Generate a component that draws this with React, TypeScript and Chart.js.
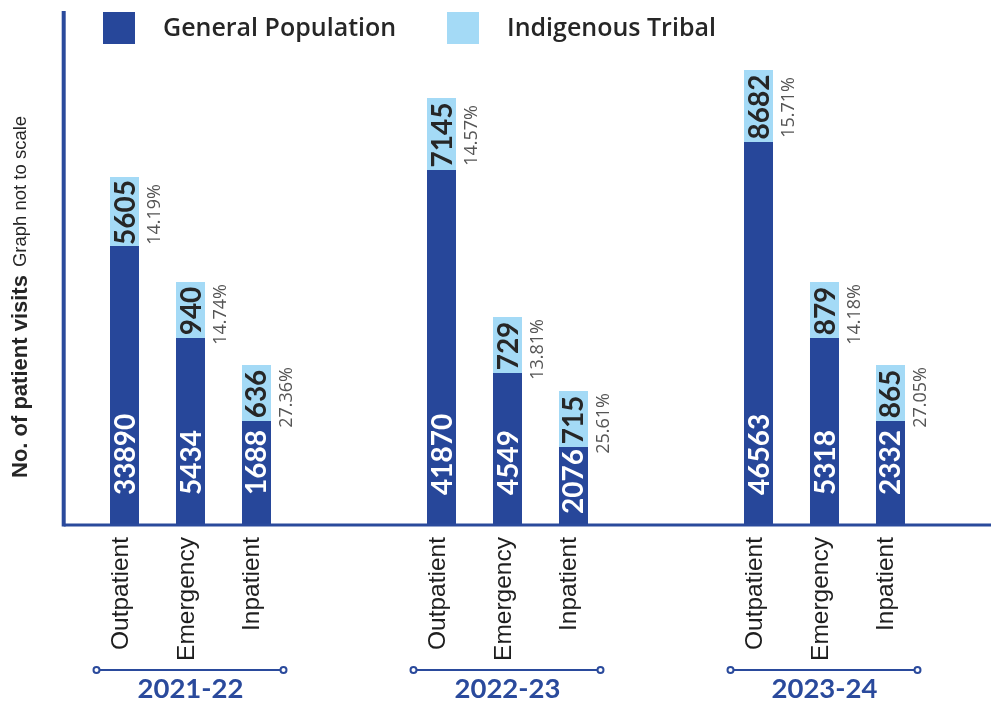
import React, { useEffect, useRef } from 'react';
import { Chart, registerables } from 'chart.js';

Chart.register(...registerables);

// ---------- data ----------
const years = ['2021-22', '2022-23', '2023-24'];
const visitTypes = ['Outpatient', 'Emergency', 'Inpatient'];

const generalOutpatient = [33890, 41870, 46563];
const generalEmergency = [5434, 4549, 5318];
const generalInpatient = [1688, 2076, 2332];

const tribalOutpatient = [5605, 7145, 8682];
const tribalEmergency = [940, 729, 879];
const tribalInpatient = [636, 715, 865];

const tribalShareOutpatient = ['14.19%', '14.57%', '15.71%'];
const tribalShareEmergency = ['14.74%', '13.81%', '14.18%'];
const tribalShareInpatient = ['27.36%', '25.61%', '27.05%'];

// "Graph not to scale": drawn bar lengths (arbitrary units)
const generalOutpatientLength = [280, 356, 384];
const generalEmergencyLength = [188, 153, 188];
const generalInpatientLength = [105, 79, 105];
const tribalOutpatientLength = [69, 72, 72];
const tribalEmergencyLength = [56, 56, 56];
const tribalInpatientLength = [56, 56, 56];

const legendLabels = ['General Population', 'Indigenous Tribal'];
const yTitle = 'No. of patient visits';
const yNote = 'Graph not to scale';

// ---------- styles ----------
const DARK = '#27479a';
const LIGHT = '#a4daf6';
const TEXT = '#262626';
const GREY = '#555555';
const AXIS = '#2a4a9c';

const generalValues = [generalOutpatient, generalEmergency, generalInpatient];
const tribalValues = [tribalOutpatient, tribalEmergency, tribalInpatient];
const tribalShares = [tribalShareOutpatient, tribalShareEmergency, tribalShareInpatient];
const generalLengths = [generalOutpatientLength, generalEmergencyLength, generalInpatientLength];
const tribalLengths = [tribalOutpatientLength, tribalEmergencyLength, tribalInpatientLength];

const overlayPlugin = {
  id: 'overlay',
  afterDatasetsDraw(chart: any) {
    const ctx = chart.ctx as CanvasRenderingContext2D;
    const xs = chart.scales.x;
    const ys = chart.scales.y;
    const base = ys.getPixelForValue(0);
    const axisX = xs.getPixelForValue(-0.4);

    ctx.save();
    // axes lines
    ctx.strokeStyle = AXIS;
    ctx.lineWidth = 3;
    ctx.beginPath();
    ctx.moveTo(axisX, base - 1);
    ctx.lineTo(chart.width, base - 1);
    ctx.stroke();
    ctx.lineWidth = 4;
    ctx.beginPath();
    ctx.moveTo(axisX, chart.chartArea.top);
    ctx.lineTo(axisX, base + 0.5);
    ctx.stroke();

    const rot = (x: number, y: number, text: string, align: CanvasTextAlign) => {
      ctx.save();
      ctx.translate(x, y);
      ctx.rotate(-Math.PI / 2);
      ctx.textAlign = align;
      ctx.textBaseline = 'alphabetic';
      ctx.fillText(text, 0, 0);
      ctx.restore();
    };

    for (let t = 0; t < visitTypes.length; t++) {
      const gpMeta = chart.getDatasetMeta(t * 2);
      const itMeta = chart.getDatasetMeta(t * 2 + 1);
      for (let i = 0; i < years.length; i++) {
        const gp = gpMeta.data[i];
        const it = itMeta.data[i];
        const cx = gp.x;
        const half = gp.width / 2;
        // general population value (white, bottom)
        ctx.fillStyle = '#ffffff';
        ctx.font = 'bold 28px Lato';
        const gText = String(generalValues[t][i]);
        const gw = ctx.measureText(gText).width;
        let start = gp.base - 31;
        if (start - gw < gp.y + 2) start = gp.y + 2 + gw;
        rot(cx + 10, start, gText, 'left');
        // tribal value (dark, centred in light segment)
        ctx.fillStyle = TEXT;
        ctx.font = 'bold 28px Lato';
        rot(cx + 10, (it.y + it.base) / 2 + 1, String(tribalValues[t][i]), 'center');
        // share
        ctx.fillStyle = GREY;
        ctx.font = '18px "Open Sans"';
        const off = t === 0 ? 7 : 2;
        rot(cx + half + 21, it.y + off, tribalShares[t][i], 'right');
        // category label
        ctx.fillStyle = '#1e1e1e';
        ctx.font = '24.5px "Liberation Sans"';
        rot(cx + 3, base + 11, visitTypes[t], 'right');
      }
    }

    // year brackets and labels
    for (let i = 0; i < years.length; i++) {
      const first = chart.getDatasetMeta(0).data[i];
      const last = chart.getDatasetMeta(4).data[i];
      const x1 = first.x - 28;
      const x2 = last.x + 27;
      const y = 670;
      ctx.strokeStyle = AXIS;
      ctx.lineWidth = 2;
      ctx.beginPath();
      ctx.moveTo(x1, y);
      ctx.lineTo(x2, y);
      ctx.stroke();
      [x1, x2].forEach((px) => {
        ctx.beginPath();
        ctx.arc(px, y, 3, 0, Math.PI * 2);
        ctx.fillStyle = '#ffffff';
        ctx.fill();
        ctx.stroke();
      });
      ctx.fillStyle = AXIS;
      ctx.font = 'bold 27.5px Lato';
      ctx.textAlign = 'center';
      ctx.textBaseline = 'alphabetic';
      ctx.fillText(years[i], xs.getPixelForValue(i), 698);
    }

    // y title
    ctx.fillStyle = TEXT;
    ctx.font = 'bold 22px "Liberation Sans"';
    const tw = ctx.measureText(yTitle).width;
    rot(27, 478, yTitle, 'left');
    ctx.font = '18.5px "Liberation Sans"';
    rot(26, 478 - tw - 8, yNote, 'left');

    // legend
    const legendX = [103, 447];
    const colors = [DARK, LIGHT];
    for (let k = 0; k < 2; k++) {
      ctx.fillStyle = colors[k];
      ctx.fillRect(legendX[k], 12, 32, 32);
      ctx.fillStyle = TEXT;
      ctx.font = '600 25px "Open Sans"';
      ctx.textAlign = 'left';
      ctx.textBaseline = 'alphabetic';
      ctx.fillText(legendLabels[k], legendX[k] + 60, 36);
    }
    ctx.restore();
  },
};

export default function App() {
  const ref = useRef<HTMLCanvasElement | null>(null);
  useEffect(() => {
    if (!ref.current) return;
    const datasets: any[] = [];
    for (let t = 0; t < visitTypes.length; t++) {
      datasets.push({
        label: legendLabels[0],
        data: generalLengths[t],
        backgroundColor: DARK,
        stack: visitTypes[t],
      });
      datasets.push({
        label: legendLabels[1],
        data: tribalLengths[t],
        backgroundColor: LIGHT,
        stack: visitTypes[t],
      });
    }
    const chart = new Chart(ref.current, {
      type: 'bar',
      data: { labels: years, datasets },
      options: {
        responsive: false,
        animation: false,
        layout: { padding: { left: 32, right: 8, top: 11, bottom: 178 } },
        datasets: { bar: { categoryPercentage: 0.6246, barPercentage: 0.4394 } },
        plugins: { legend: { display: false }, tooltip: { enabled: false } },
        scales: {
          x: { type: 'category', stacked: true, display: false },
          y: { stacked: true, min: 0, max: 515, display: false },
        },
      },
      plugins: [overlayPlugin],
    });
    return () => chart.destroy();
  }, []);
  return (
    <div style={{ position: 'absolute', left: 0, top: 0, width: 991, height: 704, background: '#fff' }}>
      <canvas ref={ref} width={991} height={704} style={{ display: 'block' }} />
    </div>
  );
}
